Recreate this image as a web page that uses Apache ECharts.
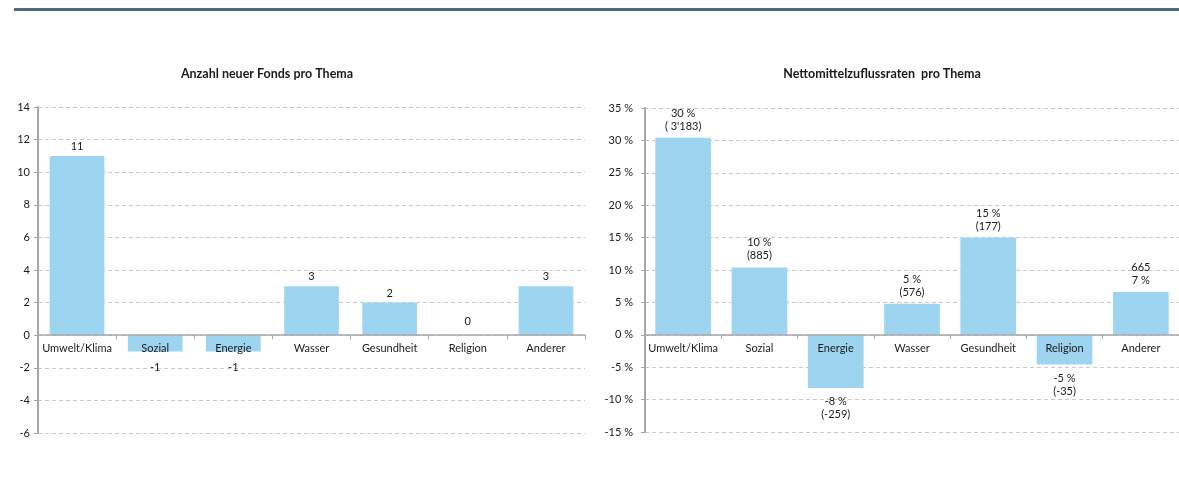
<!DOCTYPE html>
<html>
<head>
<meta charset="utf-8">
<script src="https://cdn.jsdelivr.net/npm/echarts@6/dist/echarts.min.js"></script>
<style>
html,body{margin:0;padding:0;background:#fff;}
#c{width:1179px;height:480px;}
</style>
</head>
<body>
<div id="c"></div>
<script>
const categories = ['Umwelt/Klima','Sozial','Energie','Wasser','Gesundheit','Religion','Anderer'];
const newFundCounts = [11,-1,-1,3,2,0,3];
const flowRates = [30.4,10.4,-8.2,4.8,15.0,-4.6,6.6];
const flowRateLabels = ['30','10','-8','5','15','-5','7'];
const flowAmounts = [" 3'183",'885','-259','576','177','-35','665'];
const leftTicks = {min:-6,max:14,interval:2};
const rightTicks = {min:-15,max:35,interval:5};

const FONT = 'Lato';
const txt = '#1a1a1a';
const barColor = '#9dd4f0';
const gridColor = '#c8c8c8';
const axisColor = '#a6a6a6';

const grids = [
  {left:38, top:107, width:547, height:326},
  {left:645, top:108, width:534, height:324}
];
const tickSets = [leftTicks, rightTicks];

const chart = echarts.init(document.getElementById('c'), null, {renderer:'canvas'});

function xAxisCfg(gi){
  const t = tickSets[gi], g = grids[gi];
  const zeroFromBottom = g.height * (0 - t.min) / (t.max - t.min);
  return {
    type:'category', gridIndex:gi, data:categories, z:5,
    position:'bottom', offset:-zeroFromBottom,
    axisLine:{onZero:false, lineStyle:{color:axisColor,width:1.5}},
    axisTick:{show:true, alignWithLabel:false, length:4, lineStyle:{color:axisColor}},
    axisLabel:{color:txt, fontFamily:FONT, fontSize:11, margin:8, interval:0}
  };
}
function yAxisCfg(gi, t, pct){
  return {
    type:'value', gridIndex:gi, min:t.min, max:t.max, interval:t.interval,
    axisLine:{show:true, lineStyle:{color:axisColor,width:2}},
    axisTick:{show:true, length:4, lineStyle:{color:axisColor}},
    splitLine:{show:true, lineStyle:{color:gridColor, type:[4,3], width:1}},
    axisLabel:{color:txt, fontFamily:FONT, fontSize:11, margin:pct?12:8,
      formatter: v => pct ? (v + ' %') : String(v)}
  };
}

const option = {
  animation:false,
  title:[
    {text:'Anzahl neuer Fonds pro Thema', left:262, top:62, textAlign:'center',
     textStyle:{fontFamily:FONT, fontSize:12.5, fontWeight:'bold', color:txt}},
    {text:'Nettomittelzuflussraten  pro Thema', left:877, top:62, textAlign:'center',
     textStyle:{fontFamily:FONT, fontSize:12.5, fontWeight:'bold', color:txt}}
  ],
  graphic:[{type:'rect', shape:{x:14,y:8,width:1165,height:3}, style:{fill:'#4d6a80'}}],
  grid:grids,
  xAxis:[xAxisCfg(0), xAxisCfg(1)],
  yAxis:[yAxisCfg(0,leftTicks,false), yAxisCfg(1,rightTicks,true)],
  series:[
    {
      type:'bar', xAxisIndex:0, yAxisIndex:0, barWidth:'70%',
      itemStyle:{color:barColor},
      data:newFundCounts.map(v => ({
        value:v,
        label:{show:true, position: v<0 ? 'bottom' : 'top', distance: v<0 ? 10 : (v===0 ? 8 : 4),
               color:txt, fontFamily:FONT, fontSize:11}
      }))
    },
    {
      type:'bar', xAxisIndex:1, yAxisIndex:1, barWidth:'73%',
      itemStyle:{color:barColor},
      data:flowRates.map((v,i) => ({
        value:v,
        label:{show:true, position: v<0 ? 'bottom' : 'top', distance: v<0 ? 7 : 5,
               color:txt, fontFamily:FONT, fontSize:11, lineHeight:13, align:'center',
               formatter: i===6 ? (flowAmounts[i] + '\n' + flowRateLabels[i] + ' %')
                                : (flowRateLabels[i] + ' %\n(' + flowAmounts[i] + ')')}
      }))
    }
  ]
};
chart.setOption(option);
</script>
</body>
</html>
